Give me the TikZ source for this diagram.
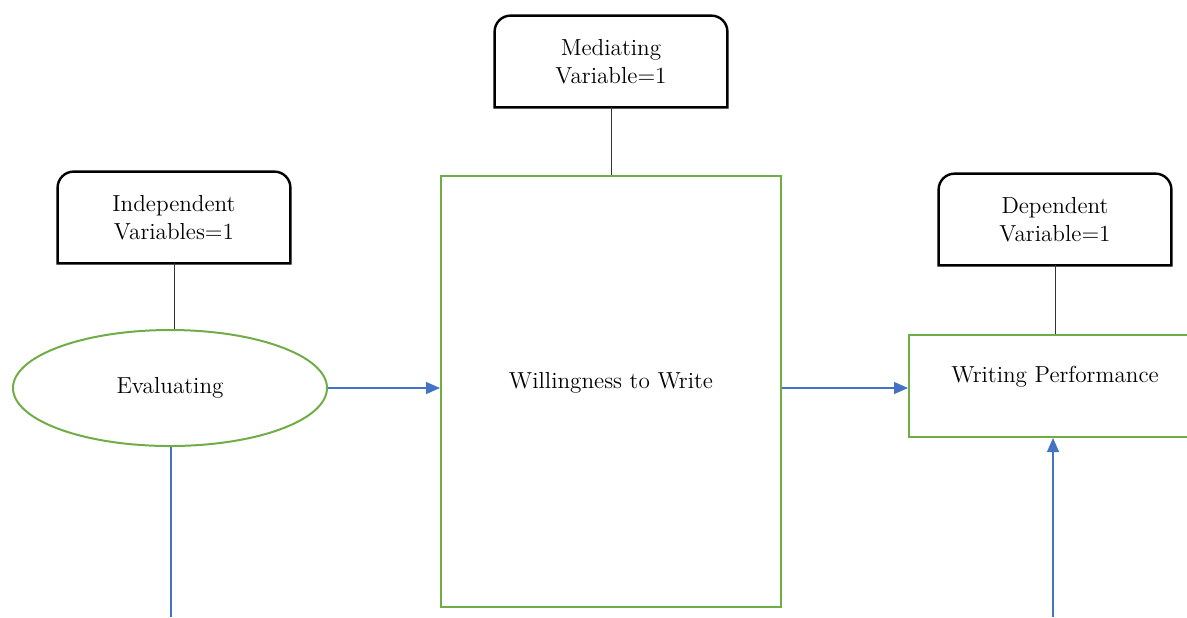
\documentclass[tikz,border=0pt]{standalone}
\usetikzlibrary{shapes.geometric,arrows.meta}
\definecolor{ggreen}{HTML}{70AD47}
\definecolor{bblue}{HTML}{4472C4}
\begin{document}
\begin{tikzpicture}[x=0.5pt,y=-0.5pt,
  every node/.style={font=\fontsize{11.6}{13.8}\selectfont, align=center, inner sep=0pt},
  varbox/.style={minimum width=116pt, minimum height=45.5pt},
  varframe/.style={line width=1.2pt, black},
  greenbox/.style={draw=ggreen, line width=1pt, rectangle},
  link/.style={line width=0.5pt, black!80},
  flow/.style={line width=0.6pt, bblue, -{Triangle[length=7pt,width=6pt]}},
  flowline/.style={line width=0.6pt, bblue}]
\useasboundingbox (0,0) rectangle (1187,617);
\clip (0,0) rectangle (1187,617);
% variable boxes
\node[varbox] (med) at (611,61.5) {Mediating\\Variable=1};
\node[varbox] (ind) at (174,217.5) {Independent\\Variables=1};
\node[varbox] (dep) at (1055,219.5) {Dependent\\Variable=1};
\foreach \n in {med,ind,dep}{
  \draw[varframe] (\n.south west) [rounded corners=8pt] -- (\n.north west) -- (\n.north east) [sharp corners] -- (\n.south east) -- cycle;
}
% main shapes
\node[greenbox, minimum width=170pt, minimum height=215.5pt] (will) at (611,391.5) {};
\node (willt) at (611,383) {Willingness to Write};
\node[draw=ggreen, line width=1pt, ellipse, minimum width=157pt, minimum height=58pt] (ev) at (170,388) {Evaluating};
\node[greenbox, minimum width=146pt, minimum height=51pt] (wp) at (1055,386) {};
\node (wpt) at (1055,377) {Writing Performance};
% links
\draw[link] (med.south) -- (will.north);
\draw[link] (ind.south) -- (ind.south |- ev.north);
\draw[link] (dep.south) -- (wp.north);
% flows
\coordinate (flowy) at (0,388);
\draw[flow] (ev.east) -- (ev.east -| will.west);
\draw[flow] (will.east |- flowy) -- (wp.west |- flowy);
\coordinate (evb) at (171,617);
\coordinate (wpb) at (1053,617);
\draw[flowline] (ev.south -| evb) -- (evb);
\draw[flow] (wpb) -- (wpb |- wp.south);
\end{tikzpicture}
\end{document}
